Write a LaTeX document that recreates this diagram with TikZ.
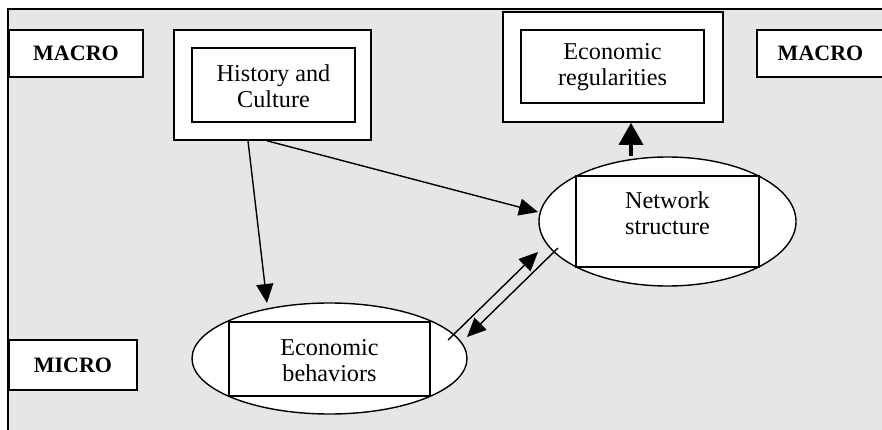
\documentclass[tikz,border=0pt]{standalone}
\usepackage{fontspec}
\setmainfont{Liberation Serif}
\usetikzlibrary{shapes.geometric,arrows.meta,calc}
\definecolor{bggray}{HTML}{E6E6E6}
\tikzset{
  box/.style={draw=black,line width=1.6pt,fill=white,inner sep=0pt},
  lvl/.style={box,font=\fontsize{22}{26}\selectfont\bfseries},
  txt/.style={font=\fontsize{24.2}{26}\selectfont,align=center,inner sep=0pt},
  oval/.style={draw=black,line width=1.4pt,fill=white,ellipse,inner sep=0pt},
  arr/.style={line width=1.4pt,-{Triangle[length=19pt,width=17pt]}},
  bigarr/.style={line width=3.5pt,-{Triangle[length=22pt,width=24pt]}}
}
\begin{document}
\begin{tikzpicture}[x=1pt,y=-1pt]
\useasboundingbox (0,0) rectangle (882,430);
\clip (0,0) rectangle (882,430);
% frame
\path[fill=bggray,draw=black,line width=1.5pt] (8,9) rectangle (900,450);
% level boxes
\node[lvl,minimum width=134pt,minimum height=47pt] (macroL) at (76,53.5) {MACRO};
\node[lvl,minimum width=128pt,minimum height=50pt] (micro) at (73,365) {MICRO};
\node[box,minimum width=130pt,minimum height=47pt] (macroRbox) at (822,53.5) {};
\node[font=\fontsize{22}{26}\selectfont\bfseries] (macroR) at (820.5,53.5) {MACRO};
% History and Culture
\node[box,minimum width=197pt,minimum height=110pt] (hist) at (272.5,85) {};
\node[box,minimum width=163pt,minimum height=74pt] (histin) at (273.5,85) {};
\node[txt] (histt) at (273.5,86) {History and\\Culture};
% Economic regularities
\node[box,minimum width=220pt,minimum height=110pt] (reg) at (613,67) {};
\node[box,minimum width=183pt,minimum height=73pt] (regin) at (612.5,66.5) {};
\node[txt] (regt) at (612.5,67) {Economic\\regularities};
% Network structure
\node[oval,minimum width=257pt,minimum height=129pt] (net) at (667.5,221.5) {};
\node[box,line width=1.4pt,minimum width=183pt,minimum height=91pt] (netin) at (667.5,221.5) {};
\node[txt] (nett) at (667.5,213) {Network\\structure};
% Economic behaviors
\node[oval,minimum width=275pt,minimum height=111pt] (beh) at (329.5,358.5) {};
\node[box,line width=1.4pt,minimum width=201pt,minimum height=74pt] (behin) at (329.5,359) {};
\node[txt] (beht) at (329.5,361) {Economic\\behaviors};
% connectors
\draw[arr] ($(hist.south)+(-24.5,0)$) -- ($(beh.center)+(-62.5,-55.5)$);
\draw[arr] ($(hist.south)+(-5.5,0)$) -- ($(net.center)+(-129.5,-9.5)$);
\draw[arr] ($(beh.center)+(118.5,-18.5)$) -- ($(net.center)+(-129.5,30.5)$);
\draw[arr] ($(net.center)+(-109.5,26.5)$) -- ($(beh.center)+(137.5,-21.5)$);
\coordinate (upx) at (631,0);
\draw[bigarr] (upx |- net.north) -- (upx |- reg.south);
\end{tikzpicture}
\end{document}
